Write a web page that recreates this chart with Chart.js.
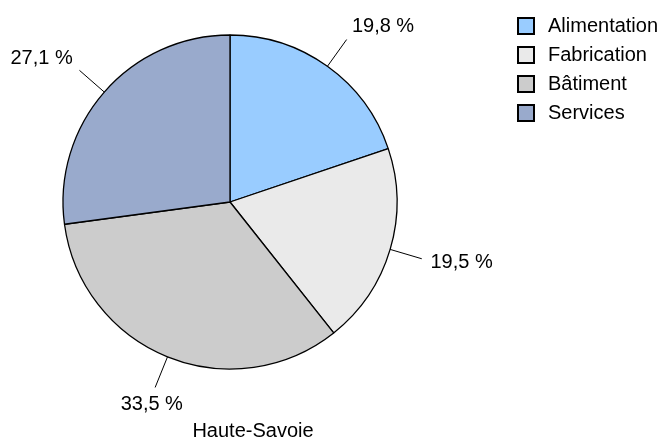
<!DOCTYPE html>
<html>
<head>
<meta charset="utf-8">
<script src="https://cdn.jsdelivr.net/npm/chart.js@4/dist/chart.umd.min.js"></script>
<style>
  html, body { margin: 0; padding: 0; background: #fff; }
  #wrap { width: 668px; height: 439px; }
</style>
</head>
<body>
<div id="wrap"><canvas id="pie" width="668" height="439"></canvas></div>
<script>
const categories = ["Alimentation", "Fabrication", "Bâtiment", "Services"];
const shares = [19.8, 19.5, 33.5, 27.1];
const colours = ["#99CCFF", "#EAEAEA", "#CCCCCC", "#99AACC"];
const chartTitle = "Haute-Savoie";

const FONT = '"Liberation Sans", Arial, sans-serif';
const fmt = v => v.toFixed(1).replace(".", ",") + " %";

// outside labels with leader lines, legend and title
const sliceLabels = {
  id: "sliceLabels",
  afterDatasetsDraw(chart) {
    const ctx = chart.ctx;
    const arcs = chart.getDatasetMeta(0).data;
    ctx.save();
    ctx.font = "20px " + FONT;
    ctx.fillStyle = "#000";
    ctx.strokeStyle = "#000";
    ctx.lineWidth = 1;
    arcs.forEach((arc, i) => {
      const a = (arc.startAngle + arc.endAngle) / 2;
      const c = Math.cos(a), s = Math.sin(a);
      const r = arc.outerRadius;
      const x1 = arc.x + c * r, y1 = arc.y + s * r;
      const x2 = arc.x + c * (r + 33), y2 = arc.y + s * (r + 33);
      ctx.beginPath();
      ctx.moveTo(x1, y1);
      ctx.lineTo(x2, y2);
      ctx.stroke();

      const tx = x2 + c * 9, ty = y2 + s * 9;
      const capH = 14.3;
      if (Math.abs(c) < 0.5) ctx.textAlign = "center";
      else ctx.textAlign = c > 0 ? "left" : "right";
      let base;
      if (Math.abs(s) < 0.5) base = ty + capH / 2;
      else base = s > 0 ? ty + capH : ty;
      ctx.textBaseline = "alphabetic";
      ctx.fillText(fmt(shares[i]), tx, base);
    });
    ctx.restore();
  },
  afterDraw(chart) {
    const ctx = chart.ctx;
    ctx.save();
    ctx.font = "20px " + FONT;
    ctx.textBaseline = "middle";
    ctx.textAlign = "left";
    categories.forEach((name, i) => {
      const y = 26 + i * 29;
      ctx.fillStyle = colours[i];
      ctx.fillRect(518, y - 8, 16, 16);
      ctx.lineWidth = 2;
      ctx.strokeStyle = "#000";
      ctx.strokeRect(518, y - 8, 16, 16);
      ctx.fillStyle = "#000";
      ctx.fillText(name, 548, y);
    });
    ctx.textAlign = "center";
    ctx.textBaseline = "alphabetic";
    ctx.fillText(chartTitle, 253, 437);
    ctx.restore();
  }
};

new Chart(document.getElementById("pie"), {
  type: "pie",
  data: {
    labels: categories,
    datasets: [{
      data: shares,
      backgroundColor: colours,
      borderColor: "#000",
      borderWidth: 1.3,
      hoverOffset: 0
    }]
  },
  options: {
    responsive: false,
    animation: false,
    radius: 167,
    layout: { padding: { left: 63, right: 271, top: 35, bottom: 70 } },
    plugins: {
      legend: { display: false },
      tooltip: { enabled: false },
      title: { display: false }
    }
  },
  plugins: [sliceLabels]
});
</script>
</body>
</html>
